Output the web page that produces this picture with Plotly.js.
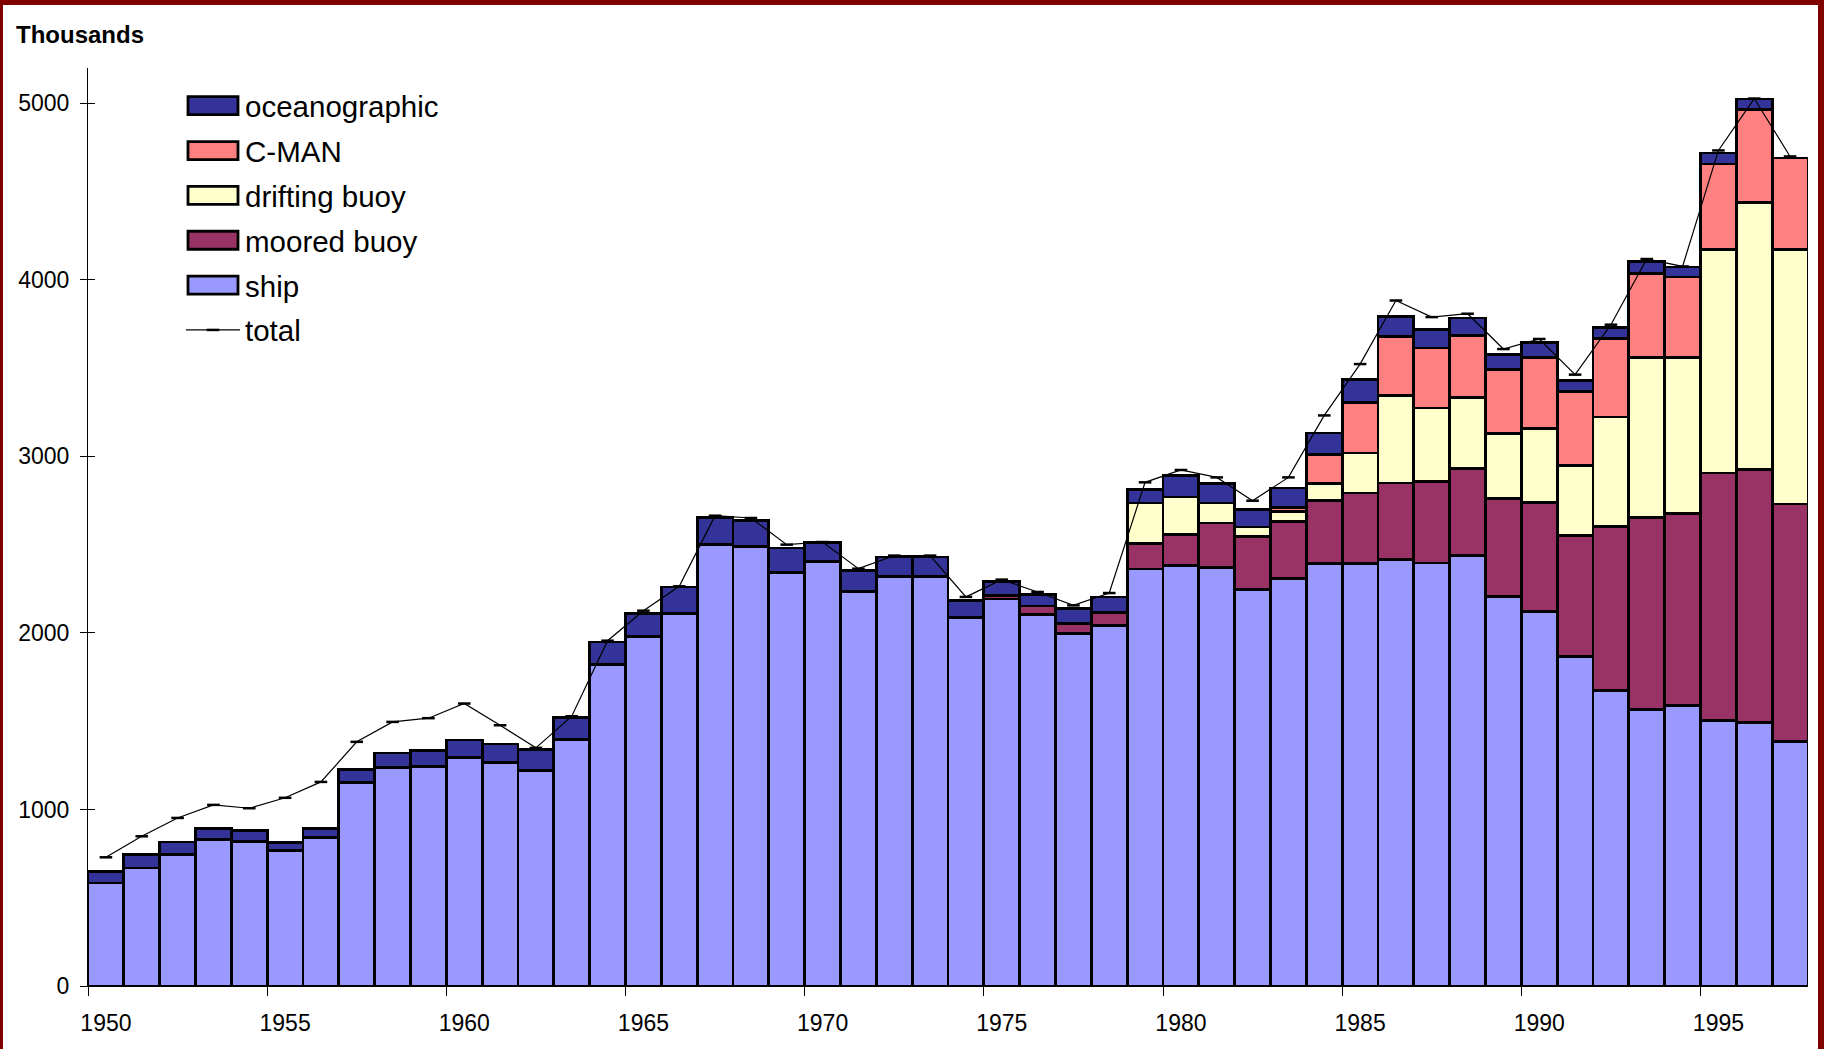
<!DOCTYPE html>
<html><head><meta charset="utf-8">
<script src="https://cdn.plot.ly/plotly-3.0.1.min.js"></script>
<style>
html,body{margin:0;padding:0;background:#fff;overflow:hidden}
#chart{width:1824px;height:1049px}
#frame{position:fixed;left:0;top:0;width:1824px;height:1049px;box-sizing:border-box;border-top:5px solid #800000;border-left:3px solid #800000;border-right:6px solid #800000;pointer-events:none}
</style></head>
<body><div id="chart"></div><div id="frame"></div>
<script>
const years = [1950,1951,1952,1953,1954,1955,1956,1957,1958,1959,
  1960,1961,1962,1963,1964,1965,1966,1967,1968,1969,
  1970,1971,1972,1973,1974,1975,1976,1977,1978,1979,
  1980,1981,1982,1983,1984,1985,1986,1987,1988,1989,
  1990,1991,1992,1993,1994,1995,1996,1997];

const ship = [584,669,745,830,818,767,843,1151,1236,1245,
  1296,1264,1222,1396,1820,1981,2109,2500,2490,2343,
  2405,2236,2321,2321,2087,2192,2105,1996,2041,2362,
  2381,2372,2245,2307,2392,2392,2415,2396,2440,2205,
  2120,1868,1675,1566,1588,1503,1494,1386];

const mooredBuoy = [0,0,0,0,0,0,0,0,0,0,
  0,0,0,0,0,0,0,0,0,0,
  0,0,0,0,0,20,48,57,76,144,
  176,251,302,325,359,401,434,463,492,555,
  620,683,929,1089,1088,1403,1431,1344];

const driftingBuoy = [0,0,0,0,0,0,0,0,0,0,
  0,0,0,0,0,0,0,0,0,0,
  0,0,0,0,0,0,0,0,0,230,
  213,113,53,57,94,226,495,415,401,368,
  418,396,619,906,885,1264,1513,1440];

const cman = [0,0,0,0,0,0,0,0,0,0,
  0,0,0,0,0,0,0,0,0,0,
  0,0,0,0,0,0,0,0,0,0,
  0,0,0,20,165,287,336,340,351,365,
  401,421,447,477,455,486,529,520];

const oceanographic = [63,76,71,62,62,48,49,75,84,87,
  98,107,117,126,129,128,151,155,148,138,
  105,119,109,109,98,80,64,85,87,75,
  121,109,98,112,123,128,113,103,100,85,
  85,63,61,66,57,62,57,0];

const total = [729,848,952,1026,1007,1066,1156,1383,1496,1517,
  1600,1477,1349,1528,1956,2126,2264,2664,2651,2500,
  2515,2364,2438,2438,2204,2302,2232,2156,2226,2853,
  2923,2881,2749,2881,3232,3523,3883,3789,3808,3608,
  3665,3463,3746,4118,4076,4733,5027,4699];

const yTicks = [0,1000,2000,3000,4000,5000];
const xLabelYears = [1950,1955,1960,1965,1970,1975,1980,1985,1990,1995];

const FONT = '"Liberation Sans", Arial, sans-serif';
const outline = {color:'#000000', width:2.8};

function barTrace(name, vals, color, rank){
  return {type:'bar', x:years, y:vals, name:name, legendrank:rank, legendgroup:name,
    marker:{color:color, line:outline}, xaxis:'x', yaxis:'y', hoverinfo:'skip'};
}

const traces = [
  barTrace('ship', ship, '#9999FF', 5),
  barTrace('moored buoy', mooredBuoy, '#993366', 4),
  barTrace('drifting buoy', driftingBuoy, '#FFFFCC', 3),
  barTrace('C-MAN', cman, '#FF8080', 2),
  barTrace('oceanographic', oceanographic, '#333399', 1),
  {type:'scatter', mode:'lines+markers', x:years, y:total, name:'total', legendrank:6, legendgroup:'total',
   line:{color:'#000000', width:1.2},
   marker:{symbol:'line-ew', size:9, color:'#000000', line:{color:'#000000', width:2.5}},
   xaxis:'x2', yaxis:'y2', hoverinfo:'skip'}
];

const xBoundaries = xLabelYears.map(v => v - 0.5);
const xr = [years[0]-0.5, years[years.length-1]+0.5];
const yr = [0, 5200];

const layout = {
  width:1824, height:1049,
  paper_bgcolor:'#ffffff', plot_bgcolor:'#ffffff',
  margin:{l:88, r:16, t:68, b:63, pad:0, autoexpand:false},
  barmode:'stack', bargap:0,
  font:{family:FONT, color:'#000000'},
  showlegend:true,
  title:{text:'<b>Thousands</b>', font:{family:FONT, size:24, color:'#000000'},
    x:16/1824, xref:'container', xanchor:'left', y:1-35/1049, yref:'container', yanchor:'middle'},
  xaxis:{range:xr, tickmode:'array', tickvals:xBoundaries, showticklabels:false,
    ticks:'outside', ticklen:9, tickwidth:1, tickcolor:'#000000',
    showline:true, linecolor:'#000000', linewidth:1, showgrid:false, zeroline:false, fixedrange:true},
  xaxis2:{range:xr, overlaying:'x', anchor:'y', side:'bottom', tickmode:'array',
    tickvals:xLabelYears, ticktext:xLabelYears.map(String), ticks:'', ticklabelstandoff:21,
    tickfont:{family:FONT, size:23, color:'#000000'},
    showline:false, showgrid:false, zeroline:false, fixedrange:true},
  yaxis:{range:yr, tickmode:'array', tickvals:yTicks, ticktext:yTicks.map(String),
    ticks:'outside', ticklen:7, tickwidth:1, tickcolor:'#000000', ticklabelstandoff:6,
    tickfont:{family:FONT, size:23, color:'#000000'},
    showline:true, linecolor:'#000000', linewidth:1, showgrid:false, zeroline:false, fixedrange:true},
  yaxis2:{range:yr, overlaying:'y', anchor:'x', side:'left', tickmode:'array', tickvals:yTicks,
    ticks:'inside', ticklen:7, tickwidth:1, tickcolor:'#000000', showticklabels:false,
    showline:false, showgrid:false, zeroline:false, fixedrange:true},
  legend:{x:(181-88)/1720, xref:'paper', xanchor:'left', y:(986-80)/918, yref:'paper', yanchor:'top',
    font:{family:FONT, size:29.5, color:'#000000'}, bgcolor:'rgba(0,0,0,0)', borderwidth:0,
    itemwidth:54, traceorder:'grouped', tracegroupgap:3.5, itemclick:false, itemdoubleclick:false}
};

Plotly.newPlot('chart', traces, layout, {staticPlot:true, displayModeBar:false}).then(function(gd){
  const items = gd.querySelectorAll('.legend .traces');
  items.forEach(function(it){
    const pts = it.querySelector('.legendpoints');
    if(!pts) return;
    pts.querySelectorAll('path').forEach(function(p){
      const d = p.getAttribute('d') || '';
      if(/^M6,6H-6V-6H6Z/.test(d)){
        p.setAttribute('d','M25,9H-25V-9H25Z');
      }
    });
    const line = pts.querySelector('path.js-line');
    const mk = pts.querySelector('.scatterpts path.point');
    if(line && mk){
      const tr = mk.getAttribute('transform') || '';
      const m = /translate\(([-\d.]+)/.exec(tr);
      const cx = m ? parseFloat(m[1]) : 20;
      line.setAttribute('d','M'+(cx-25)+',0h50');
    }
  });
});
</script>
</body></html>
